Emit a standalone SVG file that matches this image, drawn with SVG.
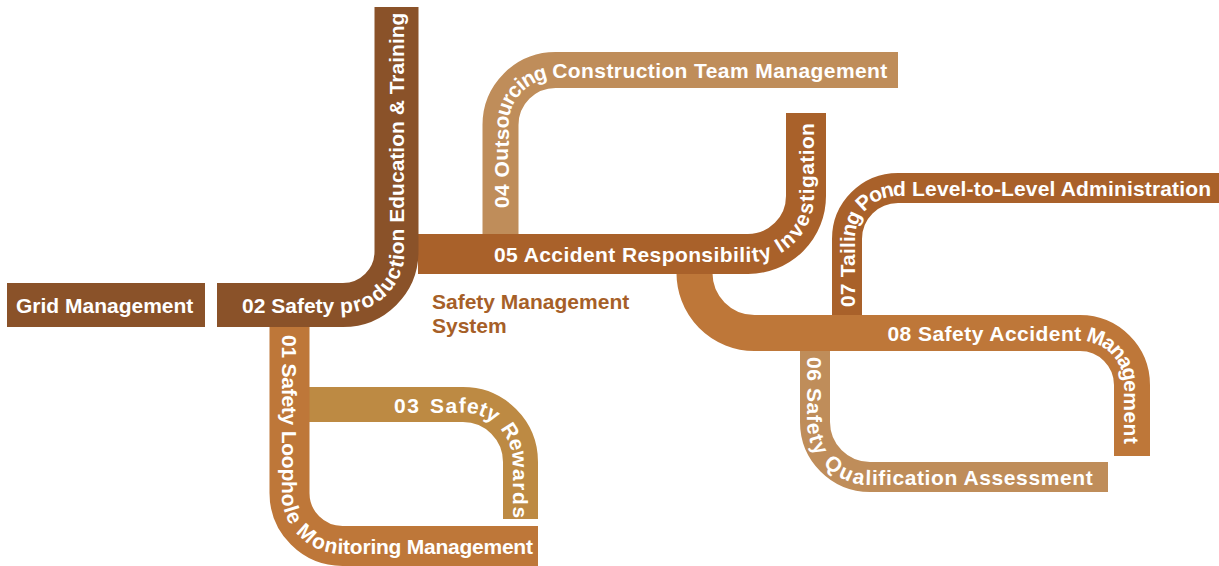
<svg xmlns="http://www.w3.org/2000/svg" width="1219" height="566" viewBox="0 0 1219 566">
<style>
.band{fill:none;stroke-linecap:butt;stroke-linejoin:round}
.lbl{font-family:"Liberation Sans",Arial,sans-serif;font-weight:bold;font-size:21px;fill:#ffffff}
.c02{stroke:#8A5229}
.c05{stroke:#A9612A}
.c08{stroke:#BE7739}
.c03{stroke:#BD8A43}
.c04{stroke:#BF8D5A}
.title{font-family:"Liberation Sans",Arial,sans-serif;font-weight:bold;font-size:21px;fill:#A65F28}
</style>
<defs>
<path id="p02" d="M 217 305 H 343 A 53.5 53.5 0 0 0 396.5 251.5 V 7"/>
<path id="p01" d="M 289.5 326 V 493 A 53 53 0 0 0 342.5 546 H 538"/>
<path id="p03" d="M 309 404.5 H 463 A 57.5 57.5 0 0 1 520.5 462 V 519"/>
<path id="p04" d="M 500.5 236 V 125 A 55 55 0 0 1 555.5 70 H 898"/>
<path id="p05" d="M 418 254 H 748 A 58 58 0 0 0 806 196 V 113"/>
<path id="p06" d="M 815 350 V 422 A 55 55 0 0 0 870 477 H 1108"/>
<path id="p07" d="M 847 316 V 239 A 51 51 0 0 1 898 188 H 1219"/>
<path id="p08" d="M 694.5 272 A 60 60 0 0 0 754.5 333 H 1080 A 52 52 0 0 1 1132 385 V 456"/>
</defs>
<g id="node04">
<use href="#p04" class="band c04" stroke-width="36"/>
<text class="lbl" dominant-baseline="central" letter-spacing="0.4"><textPath href="#p04" startOffset="28">04 Outsourcing Construction Team Management</textPath></text>
</g>
<g id="node07">
<use href="#p07" class="band c05" stroke-width="30"/>
<text class="lbl" dominant-baseline="central" letter-spacing="0.15"><textPath href="#p07" startOffset="9">07 Tailing Pond Level-to-Level Administration</textPath></text>
</g>
<g id="node06">
<use href="#p06" class="band c04" stroke-width="30"/>
<text class="lbl" dominant-baseline="central" letter-spacing="0.6"><textPath href="#p06" startOffset="7">06 Safety Qualification Assessment</textPath></text>
</g>
<g id="node08">
<use href="#p08" class="band c08" stroke-width="36"/>
<text class="lbl" dominant-baseline="central" letter-spacing="0.45"><textPath href="#p08" startOffset="228">08 Safety Accident Management</textPath></text>
</g>
<g id="node05">
<use href="#p05" class="band c05" stroke-width="40"/>
<text class="lbl" dominant-baseline="central" letter-spacing="0.4"><textPath href="#p05" startOffset="76">05 Accident Responsibility Investigation</textPath></text>
</g>
<g id="node03">
<use href="#p03" class="band c03" stroke-width="35"/>
<text class="lbl" dominant-baseline="central" letter-spacing="1.6" word-spacing="2"><textPath href="#p03" startOffset="85">03 Safety Rewards</textPath></text>
</g>
<g id="node01">
<use href="#p01" class="band c08" stroke-width="40"/>
<text class="lbl" dominant-baseline="central" letter-spacing="-0.25"><textPath href="#p01" startOffset="9">01 Safety Loophole Monitoring Management</textPath></text>
</g>
<g id="node02">
<use href="#p02" class="band c02" stroke-width="44"/>
<text class="lbl" dominant-baseline="central"><textPath href="#p02" startOffset="25">02 Safety production Education &amp; Training</textPath></text>
</g>
<g id="grid">
<rect x="7" y="283" width="198" height="44" fill="#8A5229"/>
<text class="lbl" x="16" y="313">Grid Management</text>
</g>
<g id="center-label">
<text class="title" x="432" y="309">Safety Management</text>
<text class="title" x="432" y="333">System</text>
</g>
</svg>
